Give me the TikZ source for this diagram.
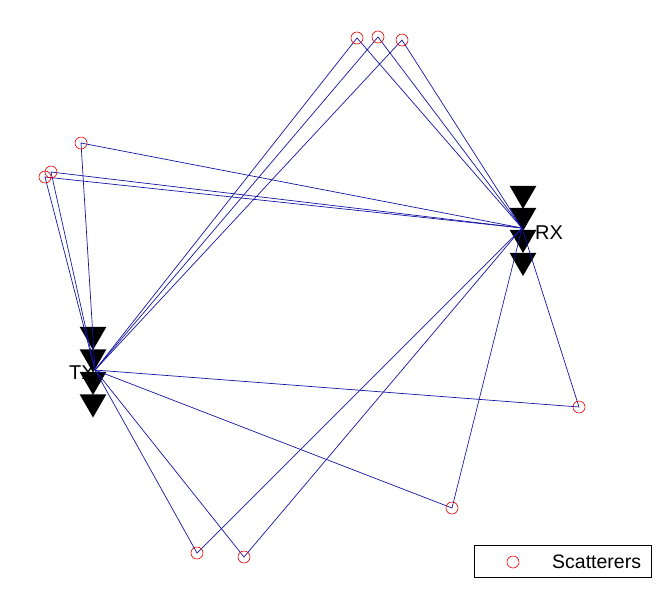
\documentclass[tikz,border=0pt]{standalone}
\usepackage{fontspec}
\setmainfont{Liberation Sans}
\usetikzlibrary{shapes.geometric}
\definecolor{raycolor}{RGB}{20,20,165}
\tikzset{
  scatterer/.style={circle, draw=red!90!black, line width=0.6pt, minimum size=12pt, inner sep=0pt}, % red rings
  antenna/.style={regular polygon, regular polygon sides=3, shape border rotate=180, fill=black, minimum size=31pt, inner sep=0pt}, % array elements
  ray/.style={draw=raycolor, line width=0.7pt}, % propagation paths
  arraytext/.style={font=\fontsize{20}{20}\selectfont, anchor=west, inner sep=0pt},
}

\begin{document}
\begin{tikzpicture}[x=1pt, y=-1pt]% pixel coordinates, y down
  \useasboundingbox (0,0) rectangle (661,598);

  % array centres
  \coordinate (tx) at (95,370);
  \coordinate (rx) at (522,228);

  % scatterer positions
  \coordinate (s1) at (357,38);
  \coordinate (s2) at (378,37);
  \coordinate (s3) at (402,40);
  \coordinate (s4) at (81,143);
  \coordinate (s5) at (51,172);
  \coordinate (s6) at (45,177);
  \coordinate (s7) at (579,407);
  \coordinate (s8) at (452,508);
  \coordinate (s9) at (197,553);
  \coordinate (s10) at (244,557);

  \node[arraytext] (txlabel) at (69,373) {TX};
  \node[arraytext] (rxlabel) at (535,233) {RX};

  % antenna elements
  \foreach \k/\y in {1/334.5, 2/357, 3/379.5, 4/402}
    \node[antenna] (t\k) at (93,\y) {};
  \foreach \k/\y in {1/193.5, 2/215.5, 3/237.5, 4/260.5}
    \node[antenna] (r\k) at (523,\y) {};

  % paths TX -> scatterer -> RX
  \foreach \s in {1,...,10}
    \path[ray] (tx) -- (s\s) -- (rx);

  \foreach \s in {1,...,10}
    \node[scatterer] (c\s) at (s\s) {};

  % legend
  \node[draw=black, line width=0.6pt, minimum width=177pt, minimum height=32pt, inner sep=0pt] (legend) at (562.5,561) {};
  \node[scatterer] (legmark) at (513,562) {};
  \node[font=\fontsize{19.5}{20}\selectfont, anchor=west, inner sep=0pt] (legtext) at (552,562) {Scatterers};
\end{tikzpicture}
\end{document}
